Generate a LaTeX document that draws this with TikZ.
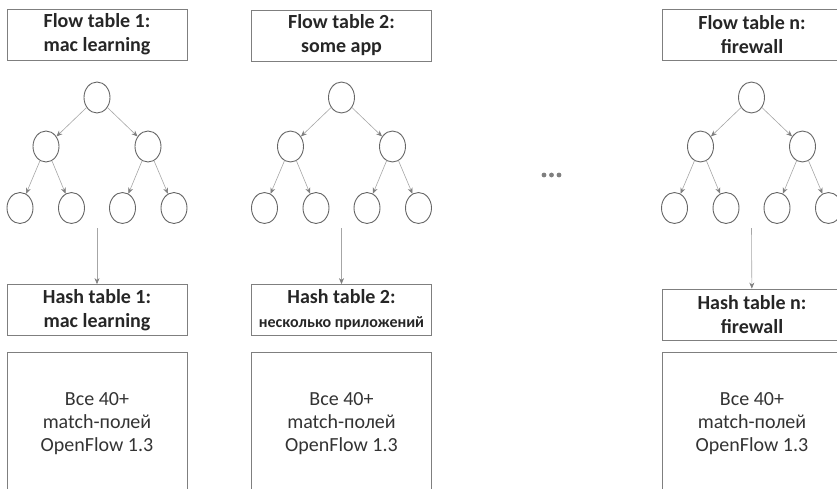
\documentclass[tikz,border=0pt]{standalone}
\usepackage{fontspec}
\setmainfont{Carlito}
\usetikzlibrary{shapes.geometric,arrows.meta}
\definecolor{frame}{HTML}{7F7F7F}
\definecolor{ring}{HTML}{666666}
\definecolor{link}{HTML}{A6A6A6}
\definecolor{tip}{HTML}{7F7F7F}
\definecolor{ink}{HTML}{262626}
\definecolor{inkb}{HTML}{333333}
\tikzset{
  titlebox/.style={draw=frame, line width=0.8pt, minimum width=180pt, minimum height=51pt,
    inner sep=0pt, align=center, text=ink, font=\fontsize{20}{24}\selectfont\bfseries},
  fieldbox/.style={draw=frame, line width=0.8pt, minimum width=180pt, minimum height=144pt,
    inner sep=0pt, align=center, text=inkb, font=\fontsize{20}{23}\selectfont},
  treenode/.style={ellipse, draw=ring, line width=0.9pt, minimum width=26pt, minimum height=31pt, inner sep=0pt},
  treelink/.style={draw=link, line width=0.6pt, -{Stealth[length=6pt,width=5pt,color=tip]}},
}
\begin{document}
\begin{tikzpicture}[x=1pt,y=-1pt]
\useasboundingbox (0,0) rectangle (837,488);
\clip (0,0) rectangle (837,488);

% flow tables
\node[titlebox] (flow1) at (97,34.5)  {Flow table 1:\\mac learning};
\node[titlebox] (flow2) at (341.5,35.5) {Flow table 2:\\some app};
\node[titlebox] (flow3) at (752,34.5) {Flow table n:\\firewall};

% trees of rules, one per table
\foreach \cx/\n in {97/1, 341.5/2, 751.5/3} {
  \node[treenode] (r\n)   at (\cx,97.5) {};
  \node[treenode] (a\n)   at (\cx-51,146.5) {};
  \node[treenode] (b\n)   at (\cx+51,146.5) {};
  \node[treenode] (aa\n)  at (\cx-77,208) {};
  \node[treenode] (ab\n)  at (\cx-25.5,208) {};
  \node[treenode] (ba\n)  at (\cx+25.5,208) {};
  \node[treenode] (bb\n)  at (\cx+77,208) {};
  \draw[treelink] (r\n) -- (a\n);
  \draw[treelink] (r\n) -- (b\n);
  \draw[treelink] (a\n) -- (aa\n);
  \draw[treelink] (a\n) -- (ab\n);
  \draw[treelink] (b\n) -- (ba\n);
  \draw[treelink] (b\n) -- (bb\n);
  \coordinate (out\n) at (\cx,228);
}

% hash tables
\node[titlebox] (hash1) at (97,310) {Hash table 1:\\mac learning};
\node[titlebox] (hash2) at (341.5,310) {Hash table 2:\\{\fontsize{16}{19}\selectfont несколько приложений}};
\node[titlebox] (hash3) at (752,314.5) {Hash table n:\\firewall};

\draw[treelink] (out1) -- (hash1);
\draw[treelink] (out2) -- (hash2);
\draw[treelink] (out3) -- (hash3);

% match fields
\node[fieldbox] (fields1) at (97,424) {Все 40+\\match-полей\\OpenFlow 1.3};
\node[fieldbox] (fields2) at (341.5,424) {Все 40+\\match-полей\\OpenFlow 1.3};
\node[fieldbox] (fields3) at (752,424) {Все 40+\\match-полей\\OpenFlow 1.3};

% ellipsis between tables
\foreach \dx in {544,551.5,559}
  \fill[frame] (\dx,175) circle (2.4pt);
\end{tikzpicture}
\end{document}
